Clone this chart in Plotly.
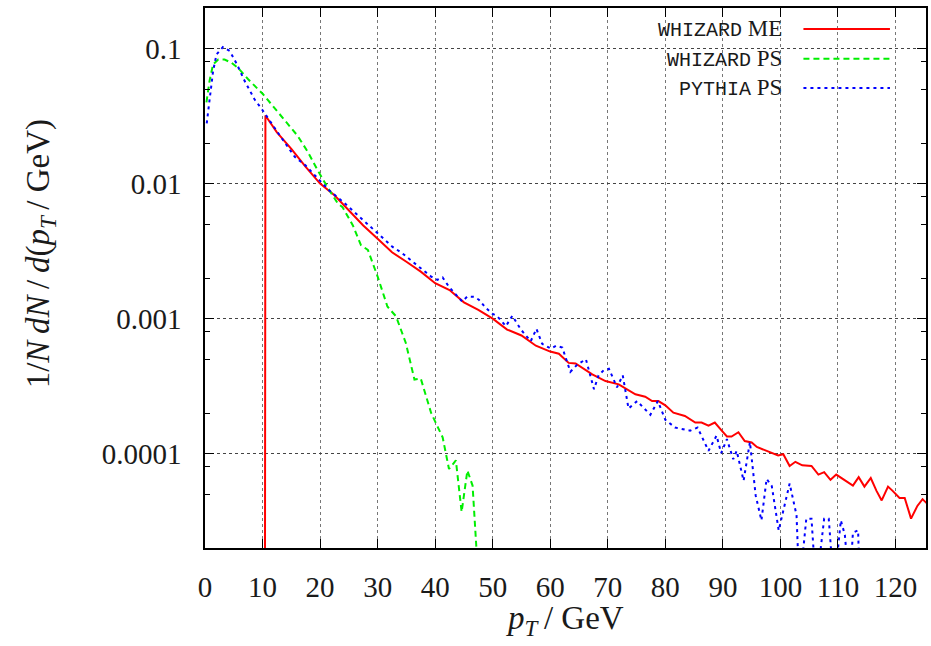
import plotly.graph_objects as go

# ---------------- data ----------------
me_x = [10.4, 10.5, 12.5, 15, 17.5, 20, 22.5, 25, 27.5, 30, 32.5, 35, 37.5, 40, 42.5, 45, 47.5,
        50, 52.5, 55, 57.5, 60, 61.5, 63.2, 64.4, 67.3, 69.6, 71.9, 74.8, 76.5, 77.7, 78.8,
        80, 81.4, 83.4, 85.2, 86.3, 87.5, 88.6, 89.8, 90.7, 91.5, 92.7, 93.8, 95, 95.9, 97.6,
        98.8, 99.6, 100.5, 101.6, 102.6, 103.8, 105.4, 106.6, 107.6, 108.7, 109.7, 111.5,
        112.6, 113.6, 114.6, 115.7, 116.7, 117.6, 118.7, 119.5, 120.7, 121.6, 122.7, 123.8,
        124.7, 125.4]
me_y = [1e-6, 0.032, 0.024, 0.0181, 0.0133, 0.0100, 0.0082, 0.0063, 0.0049, 0.0039, 0.0031,
        0.00264, 0.00223, 0.00183, 0.00163, 0.00132, 0.00116, 0.00100, 0.00083, 0.00075,
        0.00063, 0.00057, 5.5e-4, 4.7e-4, 4.65e-4, 3.86e-4, 3.45e-4, 3.26e-4, 2.75e-4,
        2.64e-4, 2.45e-4, 2.45e-4, 2.28e-4, 2.01e-4, 1.90e-4, 1.70e-4, 1.70e-4, 1.61e-4,
        1.70e-4, 1.48e-4, 1.34e-4, 1.34e-4, 1.44e-4, 1.24e-4, 1.21e-4, 1.12e-4, 1.05e-4,
        9.9e-5, 9.7e-5, 9.9e-5, 8.1e-5, 8.7e-5, 8.2e-5, 8.1e-5, 7.0e-5, 7.3e-5, 6.4e-5,
        7.0e-5, 6.2e-5, 5.8e-5, 6.7e-5, 5.7e-5, 6.6e-5, 5.3e-5, 4.5e-5, 5.7e-5, 5.3e-5,
        4.7e-5, 4.7e-5, 3.3e-5, 4.1e-5, 4.6e-5, 4.3e-5]

wps_x = [0.25, 0.8, 1.4, 2.3, 3.4, 4.6, 5.7, 7.5, 10.1, 11.5, 13.8, 16.1, 17.9, 19.6, 21.3,
         23.1, 23.9, 25.7, 27.1, 28.3, 30.0, 31.7, 33.2, 34.9, 36.4, 37.5, 39.3, 41.3, 42.4,
         43.6, 44.6, 45.6, 46.5, 47.6]
wps_y = [0.040, 0.058, 0.0765, 0.083, 0.083, 0.0786, 0.0723, 0.0593, 0.0459, 0.0389, 0.0301,
         0.0226, 0.0171, 0.0125, 0.0094, 0.0071, 0.0067, 0.0049, 0.0035, 0.00323, 0.00205,
         0.00123, 0.00104, 0.00066, 0.000354, 0.00036, 0.0002, 0.000132, 7.7e-5, 8.9e-5,
         3.7e-5, 7.5e-5, 5.8e-5, 1.0e-5]

pps_x = [0.3, 0.8, 1.4, 2.0, 3.1, 4.3, 5.5, 6.9, 8.6, 10.1, 11.5, 13.3, 15.6, 17.5, 19.9,
         21.6, 24.2, 26.8, 29.1, 30.9, 32.6, 34.2, 35.8, 37.5, 39.3, 40.4, 41.3, 42.4, 43.9,
         44.7, 45.6, 46.8, 47.6, 48.8, 49.9, 50.8, 52.3, 53.4, 54.9, 56.6, 57.6, 58.6, 60.1,
         61.0, 62.1, 63.5, 64.7, 66.2, 67.6, 68.4, 69.3, 70.2, 71.6, 72.6, 73.6, 75.1, 77.4,
         78.7, 80.0, 81.7, 84.3, 85.6, 87.5, 88.9, 89.7, 90.7, 91.8, 92.4, 93.6, 94.7, 95.7,
         96.7, 97.6, 98.5, 99.7, 101.6, 102.8, 103.3, 104.5, 105.4, 106.2, 107.6, 108.4,
         109.3, 110.5, 111.2, 112.0, 112.6, 113.5, 113.8]
pps_y = [0.028, 0.041, 0.068, 0.0906, 0.1026, 0.096, 0.0773, 0.0575, 0.0422, 0.0345, 0.0280,
         0.0218, 0.0158, 0.0136, 0.0106, 0.0089, 0.0072, 0.0057, 0.00465, 0.0040, 0.0034,
         0.00307, 0.00272, 0.00236, 0.00205, 0.00194, 0.00202, 0.00172, 0.00146, 0.00134,
         0.00146, 0.00145, 0.00138, 0.00120, 0.00109, 0.00104, 0.00088, 0.00105, 0.00083,
         0.00068, 0.00084, 0.00065, 0.00060, 0.00063, 0.00061, 0.000404, 0.000457, 0.00050,
         0.00030, 0.00038, 0.000415, 0.000425, 0.00031, 0.00038, 0.000216, 0.000245,
         0.000194, 0.000245, 0.000178, 0.000156, 0.000148, 0.000156, 0.000105, 0.000136,
         0.000101, 0.000128, 9.1e-5, 1.05e-4, 6.3e-5, 1.22e-4, 4.9e-5, 3.2e-5, 6.5e-5,
         5.75e-5, 2.7e-5, 6.0e-5, 3.5e-5, 1.0e-5, 3.3e-5, 3.3e-5, 1.0e-5, 3.3e-5, 3.3e-5,
         1.0e-5, 3.2e-5, 2.5e-5, 1.0e-5, 2.6e-5, 2.7e-5, 1.0e-5]

x_ticks = [0, 10, 20, 30, 40, 50, 60, 70, 80, 90, 100, 110, 120]
y_ticks = [0.1, 0.01, 0.001, 0.0001]
y_tick_text = ["0.1", "0.01", "0.001", "0.0001"]
y_minor = [m * 10.0 ** k for k in range(-5, 0) for m in (2, 5, 8)]

MONO = "<span style='font-family:Liberation Mono;font-size:20px'>%s</span>"
series_names = [MONO % "WHIZARD" + " ME", MONO % "WHIZARD" + " PS", MONO % "PYTHIA" + " PS"]
series_colors = ["#ff0000", "#00ee00", "#0000ff"]
series_dash = ["solid", "6px,4px", "3px,4px"]

# ---------------- figure ----------------
fig = go.Figure()
for xs, ys, c, d in [(me_x, me_y, series_colors[0], series_dash[0]),
                     (wps_x, wps_y, series_colors[1], series_dash[1]),
                     (pps_x, pps_y, series_colors[2], series_dash[2])]:
    fig.add_trace(go.Scatter(x=xs, y=ys, mode="lines", showlegend=False,
                             line=dict(color=c, width=2, dash=d)))

SERIF = "Liberation Serif"
TXT = "#1a1a1a"

fig.update_layout(
    width=931, height=646,
    margin=dict(l=205, r=3, t=8, b=98),
    paper_bgcolor="white", plot_bgcolor="white",
    showlegend=False,
    font=dict(family=SERIF, size=29, color=TXT),
)
fig.update_xaxes(
    range=[0, 125.3], tickvals=x_ticks, ticks="inside", ticklen=9, tickwidth=1,
    tickcolor="black", showline=True, linecolor="black", linewidth=1.5, mirror="allticks",
    showgrid=True, gridcolor="#777", griddash="dot", gridwidth=1, zeroline=False,
    tickfont=dict(family=SERIF, size=29, color=TXT), ticklabelstandoff=12,
)
fig.update_yaxes(
    type="log", range=[-4.699, -0.699], tickvals=y_ticks, ticktext=y_tick_text,
    ticks="inside", ticklen=9, tickwidth=1, tickcolor="black",
    showline=True, linecolor="black", linewidth=1.5, mirror="allticks",
    showgrid=True, gridcolor="#444", griddash="dot", gridwidth=1, zeroline=False,
    tickfont=dict(family=SERIF, size=29, color=TXT), ticklabelstandoff=16,
    minor=dict(tickvals=y_minor, ticks="inside", ticklen=5, tickcolor="black",
               tickwidth=1, showgrid=False),
)

# key box (covers grid like gnuplot's key)
fig.add_shape(type="rect", xref="paper", yref="paper", x0=0.611, x1=0.975, y0=0.824, y1=0.998,
              fillcolor="white", line=dict(width=0), layer="between")

rows_y = [0.961, 0.906, 0.852]
for name, c, d, ry in zip(series_names, series_colors, series_dash, rows_y):
    fig.add_annotation(xref="paper", yref="paper", x=0.8036, y=ry, text=name,
                       showarrow=False, xanchor="right", yanchor="middle",
                       font=dict(family=SERIF, size=23, color=TXT))
    fig.add_shape(type="line", xref="paper", yref="paper", x0=0.830, x1=0.950, y0=ry, y1=ry,
                  line=dict(color=c, width=2, dash=d))

# axis titles
TS = "\u2009"
fig.add_annotation(xref="paper", yref="paper", x=-0.228, y=0.545, textangle=-90,
                   text="1/<i>N" + TS + "dN</i>" + TS + "/" + TS + "<i>d</i>(<i>p</i><sub><i>T</i></sub>" + TS + "/ GeV)",
                   showarrow=False, xanchor="center", yanchor="middle",
                   font=dict(family=SERIF, size=33, color=TXT))
fig.add_annotation(xref="paper", yref="paper", x=0.4999, y=-0.135,
                   text="<i>p</i><sub><i>T</i></sub>" + TS + "/ GeV",
                   showarrow=False, xanchor="center", yanchor="middle",
                   font=dict(family=SERIF, size=33, color=TXT))

fig.write_html("out.html")
